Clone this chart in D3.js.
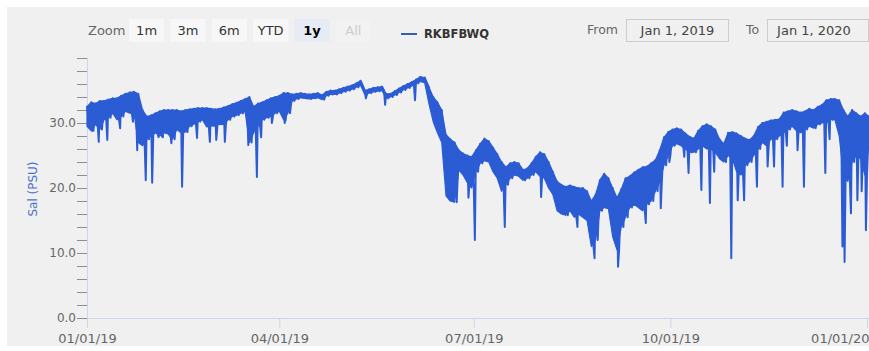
<!DOCTYPE html>
<html>
<head>
<meta charset="utf-8">
<script src="https://cdn.jsdelivr.net/npm/d3@7"></script>
<style>
  html, body { margin: 0; padding: 0; background: #ffffff; }
  svg { display: block; font-family: "DejaVu Sans", Verdana, sans-serif; }
</style>
</head>
<body>
<svg id="chart" width="869" height="351"></svg>
<script>
// ---------------- data ----------------
const seriesName = "RKBFBWQ";
const yAxisTitle = "Sal (PSU)";
const bandStart = "2019-01-01";   // first sample date; samples every 2 days
const bandStepDays = 2;
// daily-cycle high and low readings of the salinity record, per 2-day sample
const bandHi = [
  32.5, 33.2, 33.0, 33.4, 33.4, 33.6, 33.8, 33.8, 34.2, 34.5, 34.7,
  34.8, 34.5, 32.0, 31.0, 31.2, 31.5, 31.8, 32.0, 32.0, 32.0,
  32.0, 31.8, 32.0, 32.1, 32.2, 32.3, 32.3, 32.3, 32.2, 32.1,
  32.2, 32.4, 32.6, 32.9, 33.1, 33.4, 33.7, 34.0, 32.5, 33.0,
  33.2, 33.5, 33.8, 34.0, 34.2, 34.6, 34.6, 34.4, 34.5, 34.6,
  34.5, 34.4, 34.5, 34.6, 34.3, 34.8, 35.0, 35.0, 35.2, 35.4,
  35.6, 35.8, 36.1, 36.5, 35.0, 35.2, 35.4, 35.5, 35.6, 34.5,
  34.5, 34.9, 35.3, 35.7, 36.0, 36.3, 36.7, 37.1, 37.0, 35.5,
  34.0, 33.2, 32.0, 28.2, 27.5, 27.0, 25.8, 25.3, 25.0, 24.8,
  25.8, 26.8, 27.6, 27.2, 26.2, 25.2, 24.0, 23.2, 23.8, 24.0,
  23.8, 22.8, 23.0, 23.8, 24.8, 25.5, 25.2, 24.0, 22.5, 21.0,
  20.5, 20.2, 20.4, 20.2, 20.0, 20.0, 19.5, 18.0, 19.0, 21.2,
  22.2, 21.5, 20.0, 18.5, 19.8, 21.5, 21.8, 22.4, 22.8, 23.2,
  23.3, 23.8, 24.3, 25.8, 27.8, 28.6, 29.0, 29.2, 29.0, 28.4,
  27.9, 27.6, 28.8, 29.5, 29.8, 29.5, 29.0, 27.5, 26.8, 28.5,
  28.6, 28.4, 28.0, 27.6, 27.4, 28.0, 29.4, 30.0, 30.2, 30.4,
  30.5, 30.6, 31.6, 31.8, 32.0, 31.8, 31.6, 31.8, 32.2, 32.0,
  32.5, 32.8, 33.5, 33.7, 33.7, 33.5, 32.0, 31.0, 32.0, 31.5,
  31.0, 31.5, 31.0
];
const bandLo = [
  29.5, 28.8, 29.8, 29.0, 30.5, 30.8, 31.5, 30.5, 31.0, 31.8, 31.5,
  31.5, 27.0, 26.5, 27.5, 28.0, 28.5, 28.0, 28.5, 28.3, 27.5,
  29.0, 28.5, 28.6, 29.5, 29.8, 30.2, 30.5, 29.4, 29.6, 29.5,
  29.8, 29.8, 30.5, 31.0, 31.2, 31.5, 31.8, 27.0, 28.5, 29.5,
  30.5, 30.8, 31.0, 31.5, 31.8, 30.5, 31.5, 33.4, 33.7, 33.9,
  33.8, 33.7, 33.8, 33.9, 33.6, 34.2, 34.4, 34.4, 34.6, 34.8,
  35.0, 35.2, 35.5, 35.8, 34.4, 34.6, 34.8, 34.9, 35.0, 33.8,
  34.0, 34.3, 34.7, 35.1, 35.4, 35.7, 36.1, 36.4, 36.2, 33.0,
  30.2, 28.5, 27.0, 18.8, 18.0, 17.8, 22.8, 22.0, 20.8, 20.0,
  22.5, 23.8, 24.2, 24.0, 22.5, 21.5, 19.5, 20.5, 21.5, 22.0,
  21.8, 21.2, 21.5, 22.0, 22.5, 21.8, 21.5, 20.0, 19.0, 16.5,
  16.0, 15.8, 16.5, 15.5, 16.0, 15.5, 15.0, 11.0, 12.0, 16.5,
  17.0, 16.8, 12.5, 10.5, 14.0, 15.5, 17.0, 17.5, 17.0, 16.5,
  17.5, 18.0, 19.5, 21.0, 23.5, 25.0, 26.5, 26.8, 26.5, 26.0,
  25.5, 25.5, 26.0, 26.5, 26.0, 26.0, 25.5, 24.5, 24.0, 25.0,
  24.5, 22.5, 22.0, 23.5, 24.0, 25.0, 26.0, 27.0, 26.5, 27.5,
  27.5, 28.0, 28.5, 29.0, 29.5, 28.8, 28.5, 29.0, 29.5, 29.2,
  29.8, 30.0, 30.0, 30.5, 30.5, 28.0, 22.0, 21.0, 24.0, 25.0,
  24.5, 22.0, 27.0
];
// short downward excursions (minimum readings)
const spikeDates = [
  "2019-01-03","2019-01-06","2019-01-10","2019-01-16","2019-01-22","2019-01-24",
  "2019-01-28","2019-01-31","2019-02-03","2019-02-05","2019-02-09","2019-02-14",
  "2019-02-21","2019-02-27","2019-03-02","2019-03-06","2019-03-17","2019-03-21",
  "2019-03-23","2019-03-28","2019-04-03","2019-05-11","2019-05-20","2019-06-03",
  "2019-06-28","2019-07-01","2019-07-15","2019-08-01","2019-08-18","2019-08-26",
  "2019-09-06","2019-09-19","2019-09-26","2019-09-30","2019-10-07","2019-10-09",
  "2019-10-15","2019-10-19","2019-10-21","2019-10-29","2019-11-01","2019-11-04",
  "2019-11-10","2019-11-15","2019-11-18","2019-11-22","2019-11-24","2019-11-29",
  "2019-12-02","2019-12-12","2019-12-14","2019-12-20","2019-12-21","2019-12-24",
  "2019-12-27","2019-12-29","2019-12-31"
];
const spikeVals = [
  28.8, 27.1, 27.4, 29.2, 30.2, 25.8,
  21.2, 20.8, 27.8, 27.8, 26.9, 20.2,
  27.7, 27.1, 27.4, 27.1, 26.6, 21.7,
  27.8, 30.0, 30.0, 33.8, 32.8, 33.5,
  18.5, 12.0, 14.0, 18.6, 14.0, 9.2,
  7.9, 14.6, 16.9, 24.0, 24.8, 22.3,
  19.7, 17.7, 22.5, 9.2, 18.1, 18.1,
  20.2, 23.3, 23.3, 20.2, 26.5, 25.8,
  20.2, 22.3, 27.5, 11.0, 8.6, 16.1,
  18.1, 19.5, 13.5
];
const yMajorTicks = [0, 10, 20, 30];
const yMinorStep = 2;
const yMax = 40;
const xTickDates = ["2019-01-01", "2019-04-01", "2019-07-01", "2019-10-01", "2020-01-01"];
const zoomButtons = ["1m", "3m", "6m", "YTD", "1y", "All"];
const selectedButton = "1y";
const disabledButton = "All";
const fromText = "Jan 1, 2019";
const toText = "Jan 1, 2020";

// ---------------- drawing ----------------
const parse = d3.utcParse("%Y-%m-%d");
const lineColor = "#2b5cd4";
const svg = d3.select("#chart");

svg.append("rect").attr("x", 7).attr("y", 7).attr("width", 862).attr("height", 339).attr("fill", "#f0f0f0");

const x = d3.scaleUtc().domain([parse("2019-01-01"), parse("2020-01-01")]).range([87, 867]);
const y = d3.scaleLinear().domain([0, yMax]).range([318, 58]);

const start = parse(bandStart);
const band = bandHi.map((h, i) => ({
  date: d3.utcDay.offset(start, i * bandStepDays), hi: h, lo: bandLo[i]
}));
// the line itself: each sample's high, then its low one day later, spikes merged in
const pts = [];
band.forEach(b => {
  pts.push({ date: b.date, v: b.hi });
  pts.push({ date: d3.utcDay.offset(b.date, 1), v: b.lo });
});
spikeDates.forEach((s, i) => pts.push({ date: d3.utcHour.offset(parse(s), 12), v: spikeVals[i] }));
pts.sort((a, b) => a.date - b.date);

// axes
const yMinor = d3.range(0, yMax + 0.001, yMinorStep);
const yAxisMinor = d3.axisLeft(y).tickValues(yMinor).tickSize(10).tickFormat("");
const gy = svg.append("g").attr("transform", "translate(87,0)").call(yAxisMinor);
gy.select(".domain").attr("stroke", "#ccd6eb").attr("d", `M0.5,${y(yMax)}V${y(0)}`);
gy.selectAll(".tick line").attr("stroke", "#8f8f8f");
const yAxisLabels = d3.axisLeft(y).tickValues(yMajorTicks).tickSize(0).tickPadding(11).tickFormat(d3.format(".1f"));
const gyl = svg.append("g").attr("transform", "translate(87,0)").call(yAxisLabels);
gyl.select(".domain").remove();
gyl.selectAll("text").attr("fill", "#666").attr("font-size", 12).attr("font-family", "DejaVu Sans, sans-serif");

const xAxis = d3.axisBottom(x).tickValues(xTickDates.map(parse)).tickSize(10).tickPadding(6)
  .tickFormat(d3.utcFormat("%m/%d/%y"));
const gx = svg.append("g").attr("transform", "translate(0,318)").call(xAxis);
gx.select(".domain").attr("stroke", "#ccd6eb").attr("d", "M87,0.5H869");
gx.selectAll(".tick line").attr("stroke", "#ccd6eb");
gx.selectAll("text").attr("fill", "#666").attr("font-size", 13).attr("font-family", "DejaVu Sans, sans-serif");
const lastLbl = gx.selectAll(".tick text").filter((d, i, n) => i === n.length - 1);
lastLbl.attr("text-anchor", "end").attr("x", 869 - x(parse(xTickDates[xTickDates.length - 1])));

// y-axis title
svg.append("text")
  .attr("transform", `translate(33,${(y(0) + y(yMax)) / 2 + 1}) rotate(-90)`)
  .attr("text-anchor", "middle").attr("dy", "0.35em")
  .attr("fill", "#4a74c9").attr("font-size", 12)
  .text(yAxisTitle);

// series: filled envelope of the dense record, with the line traced over it
const plot = svg.append("g");
const area = d3.area().x(d => x(d.date)).y0(d => y(d.lo)).y1(d => y(d.hi)).curve(d3.curveLinear);
plot.append("path").datum(band).attr("d", area)
  .attr("fill", lineColor).attr("stroke", lineColor).attr("stroke-width", 1.2).attr("stroke-linejoin", "round");
const line = d3.line().x(d => x(d.date)).y(d => y(d.v)).curve(d3.curveLinear);
plot.append("path").datum(pts).attr("d", line)
  .attr("fill", "none").attr("stroke", lineColor).attr("stroke-width", 2)
  .attr("stroke-linejoin", "round").attr("stroke-linecap", "round");

// range selector
const tb = svg.append("g");
tb.append("text").attr("x", 88).attr("y", 30).attr("dy", "0.35em")
  .attr("fill", "#666").attr("font-size", 13).text("Zoom");
const bx = d3.scaleBand().domain(zoomButtons).range([129, 371]).paddingInner(0.15);
const btn = tb.selectAll("g.btn").data(zoomButtons).join("g").attr("class", "btn")
  .attr("transform", d => `translate(${bx(d)},19)`);
btn.append("rect").attr("width", bx.bandwidth()).attr("height", 23)
  .attr("fill", d => d === selectedButton ? "#e6ebf5" : (d === disabledButton ? "#f2f2f2" : "#f7f7f7"));
btn.append("text").attr("x", bx.bandwidth() / 2).attr("y", 11.5).attr("dy", "0.35em")
  .attr("text-anchor", "middle").attr("font-size", 13)
  .attr("font-weight", d => d === selectedButton ? "bold" : "normal")
  .attr("fill", d => d === selectedButton ? "#000" : (d === disabledButton ? "#cccccc" : "#333"))
  .text(d => d);

// legend
const lg = svg.append("g");
lg.append("line").attr("x1", 401).attr("x2", 417).attr("y1", 34).attr("y2", 34)
  .attr("stroke", "#3a5fb0").attr("stroke-width", 2);
lg.append("text").attr("x", 424).attr("y", 34).attr("dy", "0.35em")
  .attr("font-size", 11.5).attr("font-weight", "bold").attr("fill", "#333").text(seriesName);

// date inputs
const inp = svg.append("g");
inp.append("text").attr("x", 587).attr("y", 30).attr("dy", "0.35em").attr("fill", "#666").attr("font-size", 12.5).text("From");
inp.append("rect").attr("x", 626.5).attr("y", 19.5).attr("width", 102).attr("height", 22).attr("fill", "none").attr("stroke", "#cccccc");
inp.append("text").attr("x", 677.5).attr("y", 30).attr("dy", "0.35em").attr("text-anchor", "middle").attr("fill", "#444").attr("font-size", 13).text(fromText);
inp.append("text").attr("x", 746).attr("y", 30).attr("dy", "0.35em").attr("fill", "#666").attr("font-size", 12.5).text("To");
inp.append("rect").attr("x", 767.5).attr("y", 19.5).attr("width", 101).attr("height", 22).attr("fill", "none").attr("stroke", "#cccccc");
inp.append("text").attr("x", 814).attr("y", 30).attr("dy", "0.35em").attr("text-anchor", "middle").attr("fill", "#444").attr("font-size", 13).text(toText);
</script>
</body>
</html>
